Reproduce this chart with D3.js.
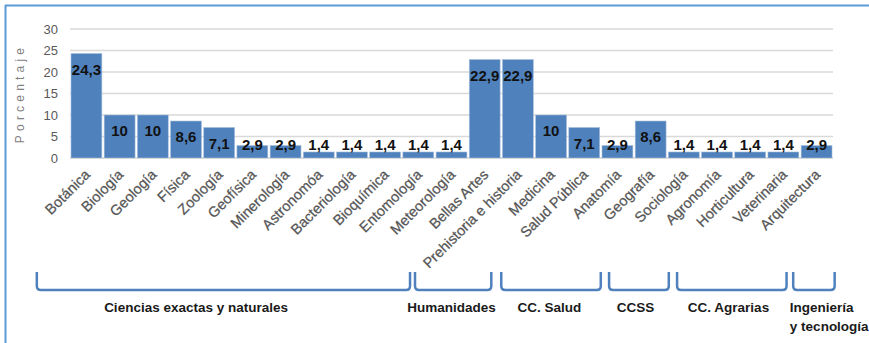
<!DOCTYPE html>
<html><head><meta charset="utf-8">
<script src="https://cdn.jsdelivr.net/npm/d3@7"></script>
<style>
html,body{margin:0;padding:0;background:#fff;}
svg{display:block;}
</style></head>
<body>
<svg id="chart" width="869" height="343"></svg>
<script>
const categories = ["Botánica","Biología","Geología","Física","Zoología","Geofísica","Minerología","Astronomóa","Bacteriología","Bioquímica","Entomología","Meteorología","Bellas Artes","Prehistoria e historia","Medicina","Salud Pública","Anatomía","Geografía","Sociología","Agronomía","Horticultura","Veterinaria","Arquitectura"];
const values = [24.3,10,10,8.6,7.1,2.9,2.9,1.4,1.4,1.4,1.4,1.4,22.9,22.9,10,7.1,2.9,8.6,1.4,1.4,1.4,1.4,2.9];
const yTicks = [0,5,10,15,20,25,30];
const groupNames = ["Ciencias exactas y naturales","Humanidades","CC. Salud","CCSS","CC. Agrarias","Ingeniería|y tecnología"];
// bracket extents in category units (hand-drawn annotation layout)
const groupSpans = [[-1.0,10.25],[10.4,12.7],[13.0,16.0],[16.25,18.05],[18.3,21.6],[21.8,23.05]];
const groupLabelUnits = [3.8,11.5,14.45,17.05,19.85,21.7];

const svg = d3.select("#chart");
const W = 869, H = 343;
const plot = {left:70, right:833, top:29, bottom:158};

// frame
svg.append("line").attr("x1",5.5).attr("x2",5.5).attr("y1",5).attr("y2",H).attr("stroke","#5b9bd5").attr("stroke-width",2);
svg.append("line").attr("x1",5).attr("x2",W).attr("y1",5.5).attr("y2",5.5).attr("stroke","#5b9bd5").attr("stroke-width",2);

const x = d3.scaleBand().domain(categories).range([plot.left, plot.right]).paddingInner(0.07).paddingOuter(0.03);
const y = d3.scaleLinear().domain([0,30]).range([plot.bottom, plot.top]);
const step = (plot.right - plot.left)/categories.length;
const u = v => plot.left + step*v;

// gridlines
svg.append("g").selectAll("line").data(yTicks).join("line")
  .attr("x1",plot.left).attr("x2",plot.right)
  .attr("y1",d=>y(d)).attr("y2",d=>y(d))
  .attr("stroke","#d9d9d9").attr("stroke-width",1.3);

// y axis
const yAxis = d3.axisLeft(y).tickValues(yTicks).tickSize(0).tickPadding(12);
const yg = svg.append("g").attr("transform",`translate(${plot.left},0)`).call(yAxis);
yg.select(".domain").remove();
yg.selectAll("text").attr("font-family","Liberation Sans, Arial, sans-serif").attr("font-size",13).attr("fill","#595959");

svg.append("text").attr("transform",`translate(24,${(plot.top+plot.bottom)/2}) rotate(-90)`)
  .attr("text-anchor","middle").attr("font-family","Liberation Sans, Arial, sans-serif")
  .attr("font-size",12).attr("letter-spacing",4.2).attr("fill","#808080").text("Porcentaje");

// bars
svg.append("g").selectAll("rect").data(values).join("rect")
  .attr("x",(d,i)=>x(categories[i])).attr("width",x.bandwidth())
  .attr("y",d=>y(d)).attr("height",d=>y(0)-y(d))
  .attr("fill","#4f81bd").attr("stroke","#a7bfdc").attr("stroke-width",0.6);

// x baseline
svg.append("line").attr("x1",plot.left).attr("x2",plot.right).attr("y1",y(0)+0.5).attr("y2",y(0)+0.5).attr("stroke","#d9d9d9").attr("stroke-width",1);

// value labels
const fmt = v => d3.format("~")(v).replace(".",",");
svg.append("g").selectAll("text").data(values).join("text")
  .attr("x",(d,i)=>x(categories[i])+x.bandwidth()/2)
  .attr("y",d=>Math.min(y(d)+16, y(0)-13))
  .attr("dy","0.36em").attr("text-anchor","middle")
  .attr("font-family","Liberation Sans, Arial, sans-serif").attr("font-size",15).attr("font-weight","bold")
  .attr("fill","#111").text(d=>fmt(d));

// category labels
svg.append("g").selectAll("text").data(categories).join("text")
  .attr("transform",d=>`translate(${x(d)+x.bandwidth()/2+1},${172}) rotate(-45)`)
  .attr("text-anchor","end").attr("dy","0.35em")
  .attr("font-family","Liberation Sans, Arial, sans-serif").attr("font-size",14.5)
  .attr("fill","#555").attr("stroke","#555").attr("stroke-width",0.25).text(d=>d);

// group brackets
const by0 = 272, by1 = 290, r = 4;
svg.append("g").selectAll("path").data(groupSpans).join("path")
  .attr("d",d=>{const a=u(d[0]), b=u(d[1]);
    return `M${a},${by0} L${a},${by1-r} Q${a},${by1} ${a+r},${by1} L${b-r},${by1} Q${b},${by1} ${b},${by1-r} L${b},${by0}`;})
  .attr("fill","none").attr("stroke","#4f81bd").attr("stroke-width",2.5);

// group labels
const gl = svg.append("g").selectAll("text").data(groupNames).join("text")
  .attr("x",(d,i)=>u(groupLabelUnits[i]))
  .attr("y",312)
  .attr("text-anchor",(d,i)=>i===5?"start":"middle")
  .attr("font-family","Liberation Sans, Arial, sans-serif").attr("font-size",13.5).attr("font-weight","bold")
  .attr("fill","#1a1a1a");
gl.each(function(d){
  const parts = d.split("|");
  const t = d3.select(this);
  parts.forEach((p,k)=>t.append("tspan").attr("x",t.attr("x")).attr("dy",k===0?0:19).text(p));
});
</script>
</body></html>
